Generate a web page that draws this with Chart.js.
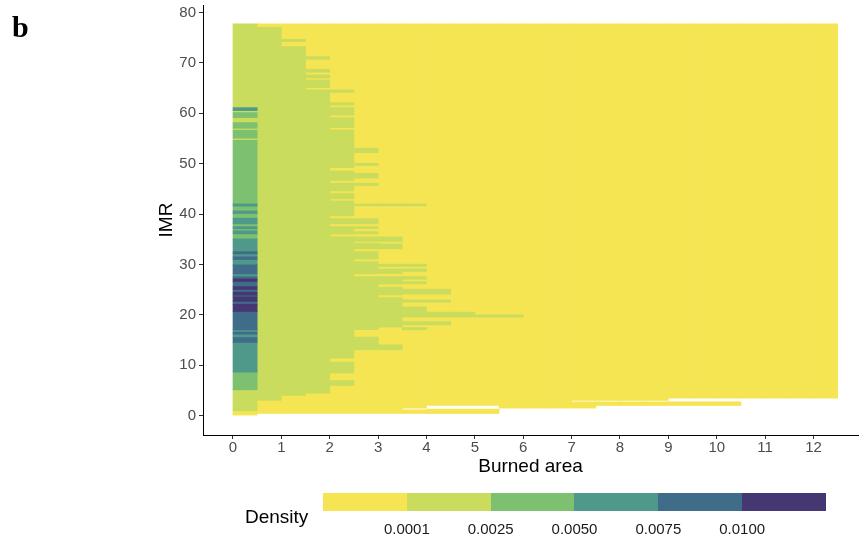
<!DOCTYPE html>
<html>
<head>
<meta charset="utf-8">
<script src="https://cdn.jsdelivr.net/npm/chart.js@4.4.1/dist/chart.umd.min.js"></script>
<style>
  body { margin: 0; background: #fff; font-family: "Liberation Sans", Arial, sans-serif; }
  #wrap { position: relative; width: 860px; height: 539px; overflow: hidden; }
  #chart { position: absolute; left: 0; top: 0; }
  .panel { position: absolute; left: 12px; top: 12px; font: bold 30px/30px "Liberation Serif", serif; color: #000; }
  .legend-title { position: absolute; left: 245px; top: 507px; font-size: 19px; line-height: 19px; color: #000; }
  #legendBar { position: absolute; left: 323px; top: 493px; width: 503px; height: 18px; display: flex; }
  #legendBar div { flex: 1; }
  .legend-label { position: absolute; top: 521px; font-size: 15px; line-height: 15px; color: #1a1a1a; transform: translateX(-50%); }
</style>
</head>
<body>
<div id="wrap">
  <canvas id="chart" width="860" height="539"></canvas>
  <div class="panel">b</div>
  <div class="legend-title">Density</div>
  <div id="legendBar"></div>
</div>
<script>
// Density classes (lowest -> highest)
const levelColors = ["#f5e553", "#cadc5e", "#7cc070", "#4e998a", "#3f6d89", "#453772"];
const levelLabels = ["0.0001", "0.0025", "0.0050", "0.0075", "0.0100"];

// Axis ticks
const xTicks = [0, 1, 2, 3, 4, 5, 6, 7, 8, 9, 10, 11, 12];
const yTicks = [0, 10, 20, 30, 40, 50, 60, 70, 80];

// Burned area bins (left edge, width 0.5)
const binWidth = 0.5;
const burnedBins = [0, 0.5, 1, 1.5, 2, 2.5, 3, 3.5, 4, 4.5, 5, 5.5, 6, 6.5, 7, 7.5, 8, 8.5, 9, 9.5, 10, 10.5, 11, 11.5, 12];

// IMR ranges in the lowest class, per bin
const lowRanges = [
  [[0, 0.95]],
  [[0.42, 77.74]],
  [[0.42, 77.74]],
  [[0.42, 77.74]],
  [[0.42, 77.74]],
  [[0.42, 77.74]],
  [[0.42, 77.74]],
  [[0.42, 1.15], [1.49, 77.74]],
  [[0.42, 1.29], [2.0, 77.74]],
  [[0.42, 1.29], [2.0, 77.74]],
  [[0.42, 1.29], [2.0, 77.74]],
  [[1.49, 77.74]],
  [[1.49, 77.74]],
  [[1.49, 77.74]],
  [[1.49, 2.74], [3.0, 77.74]],
  [[2.0, 2.74], [3.0, 77.74]],
  [[2.0, 2.74], [3.0, 77.74]],
  [[2.0, 2.74], [3.0, 77.74]],
  [[2.0, 2.74], [3.47, 77.74]],
  [[2.0, 2.74], [3.47, 77.74]],
  [[2.0, 2.74], [3.47, 77.74]],
  [[3.47, 77.74]],
  [[3.47, 77.74]],
  [[3.47, 77.74]],
  [[3.47, 77.74]]
];

// IMR ranges in the second class, per bin (bin 0 is in firstBinBands)
const midRanges = [
  [],
  [[3.0, 77.07]],
  [[3.99, 73.23], [74.23, 74.7]],
  [[4.46, 64.65], [65.1, 66.63], [67.02, 67.62], [68.15, 68.75], [70.73, 71.25]],
  [[5.97, 6.96], [8.43, 10.62], [11.41, 35.54], [36.01, 37.52], [38.06, 39.11], [39.64, 42.62], [43.02, 44.07],
   [44.6, 46.13], [46.65, 48.57], [49.23, 56.71], [57.16, 59.15], [59.62, 61.13], [61.63, 62.12], [64.15, 64.65]],
  [[13.06, 15.6], [17.04, 27.6], [28.13, 30.58], [31.05, 32.56], [33.1, 34.23], [34.58, 35.48], [36.07, 36.53],
   [37.12, 37.52], [38.06, 39.11], [41.63, 42.02], [45.65, 46.13], [47.12, 48.11], [49.62, 50.1], [52.2, 53.08]],
  [[13.06, 14.05], [17.56, 23.43], [23.96, 25.5], [26.1, 27.6], [28.2, 29.1], [29.58, 30.06], [33.1, 34.09],
   [34.58, 35.48], [41.63, 42.02]],
  [[17.02, 17.48], [18.02, 18.67], [19.54, 21.59], [22.52, 22.98], [24.11, 25.1], [26.15, 26.61], [27.08, 27.6],
   [28.59, 29.13], [29.58, 30.06], [41.63, 42.02]],
  [[18.02, 18.67], [19.54, 20.54], [22.52, 22.98], [24.11, 25.1]],
  [[19.54, 20.54]],
  [[19.54, 20.0]],
  [[19.54, 20.0]],
  [], [], [], [], [], [], [], [], [], [], [], [], []
];

// First bin (burned area 0-0.5): [IMR low, IMR high, class]
const firstBinBands = [
  [0, 0.95, 0], [0.95, 5.12, 1], [5.12, 8.63, 2], [8.63, 14.5, 3], [14.5, 15.5, 4], [15.5, 16.17, 3],
  [16.17, 16.57, 4], [16.57, 17.02, 3], [17.02, 20.65, 4], [20.65, 22.12, 5], [22.12, 22.64, 4],
  [22.64, 23.57, 5], [23.57, 23.91, 4], [23.91, 24.5, 5], [24.5, 25.02, 4], [25.02, 25.61, 5],
  [25.61, 26.61, 4], [26.61, 27.14, 5], [27.14, 27.6, 4], [27.6, 28.13, 3], [28.13, 29.92, 4],
  [29.92, 30.97, 3], [30.97, 31.51, 4], [31.51, 32.1, 3], [32.1, 32.56, 4], [32.56, 35.08, 3],
  [35.08, 36.07, 2], [36.07, 36.67, 3], [36.67, 37.06, 2], [37.06, 37.52, 3], [37.52, 38.06, 2],
  [38.06, 39.19, 3], [39.19, 40.1, 2], [40.1, 40.63, 3], [40.63, 41.57, 2], [41.57, 42.02, 3],
  [42.02, 54.66, 2], [54.66, 55.06, 1], [55.06, 56.65, 2], [56.65, 57.04, 1], [57.04, 58.15, 2],
  [58.15, 59.15, 1], [59.15, 60.14, 2], [60.14, 60.54, 1], [60.54, 61.13, 3], [61.13, 77.74, 1]
];

// One floating-bar dataset per density class
const datasets = levelColors.map((color, level) => ({
  data: [],
  backgroundColor: color,
  borderWidth: 0,
  grouped: false,
  barPercentage: 1,
  categoryPercentage: 1,
  order: levelColors.length - level
}));

burnedBins.forEach((left, i) => {
  const x = left + binWidth / 2;
  lowRanges[i].forEach(([lo, hi]) => { if (left > 0) datasets[0].data.push({ x, y: [lo, hi] }); });
  midRanges[i].forEach(([lo, hi]) => datasets[1].data.push({ x, y: [lo, hi] }));
});
firstBinBands.forEach(([lo, hi, level]) => {
  datasets[level].data.push({ x: burnedBins[0] + binWidth / 2, y: [lo, hi] });
});

const fontFamily = "'Liberation Sans', Arial, sans-serif";

new Chart(document.getElementById("chart"), {
  type: "bar",
  data: { datasets },
  options: {
    responsive: false,
    animation: false,
    events: [],
    layout: { padding: { top: 5, right: 2, left: 0, bottom: 0 } },
    plugins: { legend: { display: false }, tooltip: { enabled: false } },
    scales: {
      x: {
        type: "linear",
        min: -0.62,
        max: 12.92,
        offset: false,
        afterBuildTicks: (axis) => { axis.ticks = xTicks.map(v => ({ value: v })); },
        afterFit: (axis) => { axis.height = 104; axis.paddingLeft = 0; axis.paddingRight = 0; },
        grid: { display: true, drawOnChartArea: false, drawTicks: true, tickLength: 4, color: "#333", offset: false },
        border: { display: true, color: "#000", width: 1 },
        ticks: { font: { family: fontFamily, size: 15 }, color: "#4d4d4d", padding: 0, maxRotation: 0 },
        title: {
          display: true, text: "Burned area", color: "#000",
          font: { family: fontFamily, size: 19 }, padding: { top: 0, bottom: 60.8 }
        }
      },
      y: {
        type: "linear",
        min: -3.85,
        max: 81.5,
        afterBuildTicks: (axis) => { axis.ticks = yTicks.map(v => ({ value: v })); },
        afterFit: (axis) => { axis.width = 203; axis.paddingTop = 0; axis.paddingBottom = 0; },
        grid: { display: true, drawOnChartArea: false, drawTicks: true, tickLength: 4, color: "#333" },
        border: { display: true, color: "#000", width: 1 },
        ticks: { font: { family: fontFamily, size: 15 }, color: "#4d4d4d", padding: 3 },
        title: {
          display: true, text: "IMR", color: "#000",
          font: { family: fontFamily, size: 19 }, padding: { top: 155.6, bottom: 0 }
        }
      }
    }
  }
});

// Colour-bar legend
const legendBar = document.getElementById("legendBar");
levelColors.forEach(color => {
  const cell = document.createElement("div");
  cell.style.background = color;
  legendBar.appendChild(cell);
});
const wrap = document.getElementById("wrap");
levelLabels.forEach((text, i) => {
  const label = document.createElement("div");
  label.className = "legend-label";
  label.textContent = text;
  label.style.left = (323 + (i + 1) * 503 / levelColors.length) + "px";
  wrap.appendChild(label);
});
</script>
</body>
</html>
